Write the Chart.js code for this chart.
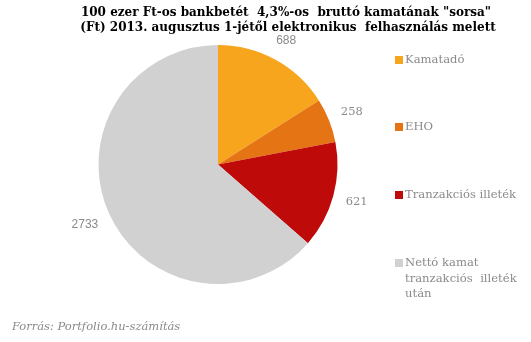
<!DOCTYPE html>
<html>
<head>
<meta charset="utf-8">
<script src="https://cdn.jsdelivr.net/npm/chart.js@4"></script>
<style>
  html, body { margin: 0; padding: 0; background: #ffffff; }
  #wrap { width: 531px; height: 342px; position: relative; }
</style>
</head>
<body>
<div id="wrap"><canvas id="c" width="531" height="342"></canvas></div>
<script>
// Breakdown of the gross interest (Ft) on a 100 000 Ft deposit at 4.3%
const categories = ['Kamatadó', 'EHO', 'Tranzakciós illeték', 'Nettó kamat tranzakciós illeték után'];
const legendLines = [['Kamatadó'], ['EHO'], ['Tranzakciós illeték'], ['Nettó kamat', 'tranzakciós  illeték', 'után']];
const values = [688, 258, 621, 2733];
const colors = ['#F8A51E', '#E57414', '#BF0A0A', '#D1D1D1'];
const titleLines = ['100 ezer Ft-os bankbetét  4,3%-os  bruttó kamatának "sorsa"', '(Ft) 2013. augusztus 1-jétől elektronikus  felhasználás melett'];
const sourceText = 'Forrás: Portfolio.hu-számítás';

const serif = '"DejaVu Serif", "Liberation Serif", serif';
const sans = '"Liberation Sans", Arial, sans-serif';
const labelFonts = ['12px ' + sans, '11.5px ' + serif, '11.5px ' + serif, '12px ' + sans];
const grey = '#8A8A8A';

// Value labels just outside each slice, along the slice's middle angle
const outsideLabels = {
  id: 'outsideLabels',
  afterDatasetsDraw(chart) {
    const ctx = chart.ctx;
    const meta = chart.getDatasetMeta(0);
    ctx.save();
    ctx.fillStyle = grey;
    ctx.textAlign = 'center';
    ctx.textBaseline = 'middle';
    meta.data.forEach((arc, i) => {
      const p = arc.getProps(['x', 'y', 'startAngle', 'endAngle', 'outerRadius'], true);
      const mid = (p.startAngle + p.endAngle) / 2;
      ctx.font = labelFonts[i];
      const text = String(values[i]);
      const w = ctx.measureText(text).width, h = 12;
      const dx = Math.cos(mid), dy = Math.sin(mid);
      const extent = Math.abs(dx) * w / 2 + Math.abs(dy) * h / 2;
      const r = p.outerRadius + 12 + extent;
      ctx.fillText(text, p.x + dx * r, p.y + dy * r);
    });
    ctx.restore();
  }
};

// Title, legend and source line
const decorations = {
  id: 'decorations',
  afterDraw(chart) {
    const ctx = chart.ctx;
    ctx.save();
    ctx.fillStyle = '#000000';
    ctx.textAlign = 'center';
    ctx.textBaseline = 'alphabetic';
    ctx.font = 'bold 12px ' + serif;
    ctx.fillText(titleLines[0], 286, 16);
    ctx.fillText(titleLines[1], 288, 31);

    // legend
    ctx.textAlign = 'left';
    ctx.textBaseline = 'middle';
    ctx.font = '11.6px ' + serif;
    const ys = [60, 127, 195, 263];
    legendLines.forEach((lines, i) => {
      ctx.fillStyle = colors[i];
      ctx.fillRect(395, ys[i] - 4, 8, 8);
      ctx.fillStyle = grey;
      lines.forEach((t, k) => ctx.fillText(t, 405, ys[i] + k * 15.5));
    });

    // source
    ctx.font = 'italic 11.5px ' + serif;
    ctx.fillStyle = grey;
    ctx.fillText(sourceText, 12, 327);
    ctx.restore();
  }
};

new Chart(document.getElementById('c'), {
  type: 'pie',
  data: {
    labels: categories,
    datasets: [{
      data: values,
      backgroundColor: colors,
      borderWidth: 0
    }]
  },
  options: {
    responsive: false,
    animation: false,
    layout: { padding: { left: 98.5, right: 193.5, top: 45, bottom: 58 } },
    plugins: {
      legend: { display: false },
      tooltip: { enabled: false },
      title: { display: false }
    }
  },
  plugins: [outsideLabels, decorations]
});
</script>
</body>
</html>
